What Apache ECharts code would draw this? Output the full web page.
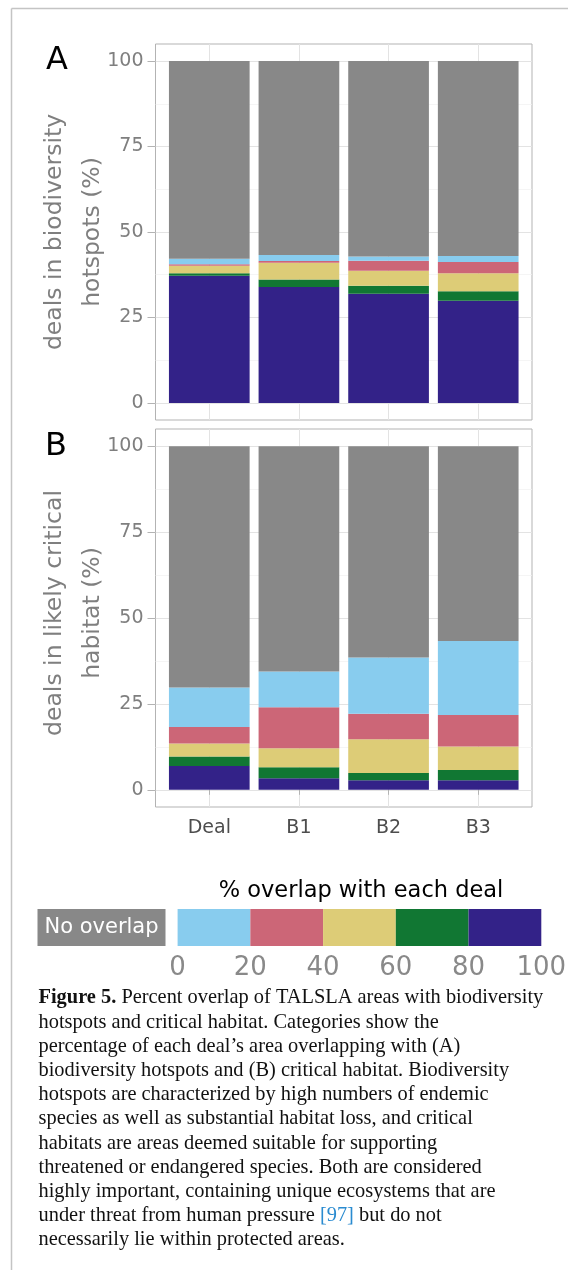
<!DOCTYPE html>
<html><head><meta charset="utf-8">
<script src="https://cdn.jsdelivr.net/npm/echarts@6/dist/echarts.min.js"></script>
<style>html,body{margin:0;padding:0;background:#fff}#c{width:568px;height:1270px}</style>
</head><body><div id="c"></div>
<script>
// ---------- data ----------
const categories = ['Deal', 'B1', 'B2', 'B3'];
const yTicks = [0, 25, 50, 75, 100];
const yMinorTicks = [12.5, 37.5, 62.5, 87.5];
const legendBreaks = [0, 20, 40, 60, 80, 100];
const binNames = ['80–100', '60–80', '40–60', '20–40', '0–20', 'No overlap']; // bottom -> top
const binColors = ['#332288', '#117733', '#DDCC77', '#CC6677', '#88CCEE', '#888888'];

// Panel A: deals in biodiversity hotspots (%)
const hotspot80to100 = [37.2, 33.9, 31.9, 29.9];
const hotspot60to80  = [0.7, 2.2, 2.4, 2.8];
const hotspot40to60  = [2.2, 4.9, 4.4, 5.2];
const hotspot20to40  = [0.5, 0.5, 2.9, 3.3];
const hotspot0to20   = [1.6, 1.8, 1.2, 1.8];
const hotspotNone    = [57.8, 56.7, 57.2, 57.0];

// Panel B: deals in likely critical habitat (%)
const habitat80to100 = [6.9, 3.4, 2.8, 2.8];
const habitat60to80  = [2.8, 3.2, 2.1, 3.0];
const habitat40to60  = [3.8, 5.5, 9.8, 6.8];
const habitat20to40  = [4.8, 11.9, 7.4, 9.2];
const habitat0to20   = [11.5, 10.4, 16.4, 21.5];
const habitatNone    = [70.2, 65.6, 61.5, 56.7];

const panelA = [hotspot80to100, hotspot60to80, hotspot40to60, hotspot20to40, hotspot0to20, hotspotNone];
const panelB = [habitat80to100, habitat60to80, habitat40to60, habitat20to40, habitat0to20, habitatNone];

// ---------- chart ----------
const FONT = '"DejaVu Sans", sans-serif';
const SERIF = '"Liberation Serif", "DejaVu Serif", serif';
const chart = echarts.init(document.getElementById('c'), null, {renderer: 'canvas'});

const plotL = 155.5, plotW = 376.5;
const bandPx = plotW / 4.2;           // discrete axis expanded by 0.6 band on each side
const barW = bandPx * 0.9;
const panels = [{top: 44, height: 376}, {top: 429, height: 378}];

function frameX(gridIndex, showLabels) {
  return {
    type: 'value', gridIndex: gridIndex, min: 0.4, max: 4.6,
    axisLine: {show: false},
    axisTick: {show: showLabels, customValues: [1, 2, 3, 4], length: 5, lineStyle: {color: '#b3b3b3', width: 1}},
    axisLabel: {show: showLabels, customValues: [1, 2, 3, 4], margin: 12,
      formatter: v => categories[Math.round(v) - 1] || '',
      color: '#4d4d4d', fontSize: 19, fontFamily: FONT},
    splitLine: {show: true, lineStyle: {color: '#e3e3e3', width: 1}}
  };
}
function frameYMain(gridIndex) {
  return {
    type: 'value', gridIndex: gridIndex, min: -5, max: 105,
    axisLine: {show: false},
    axisTick: {show: true, customValues: yTicks, length: 8, lineStyle: {color: '#b3b3b3', width: 1}},
    axisLabel: {show: true, customValues: yTicks, margin: 12, color: '#7f7f7f', fontSize: 19, fontFamily: FONT},
    splitLine: {show: true, lineStyle: {color: '#e3e3e3', width: 1}}
  };
}
function frameYMinor(gridIndex) {
  return {
    type: 'value', gridIndex: gridIndex, min: -5, max: 105,
    axisLine: {show: false},
    axisTick: {show: false, customValues: yMinorTicks},
    axisLabel: {show: false, customValues: yMinorTicks},
    splitLine: {show: true, lineStyle: {color: '#f1f1f1', width: 0.7}}
  };
}

const grids = [], xAxes = [], yAxes = [];
panels.forEach((pn, p) => {
  // frame grid (full panel incl. expansion)
  grids.push({left: plotL, top: pn.top, width: plotW, height: pn.height, show: true,
    borderColor: '#b3b3b3', borderWidth: 1, backgroundColor: '#fff', outerBoundsMode: 'none', containLabel: false});
  xAxes.push(frameX(grids.length - 1, p === 1));
  yAxes.push(frameYMain(grids.length - 1));
  yAxes.push(frameYMinor(grids.length - 1));
});
// bar grids (category bands only)
const barAxisIdx = [];
panels.forEach((pn, p) => {
  grids.push({left: plotL + 0.1 * bandPx, top: pn.top, width: 4 * bandPx, height: pn.height,
    outerBoundsMode: 'none', containLabel: false});
  const g = grids.length - 1;
  xAxes.push({type: 'category', gridIndex: g, data: categories, show: false});
  yAxes.push({type: 'value', gridIndex: g, min: -5, max: 105, show: false, splitLine: {show: false}});
  barAxisIdx.push({x: xAxes.length - 1, y: yAxes.length - 1});
});
// legend grid
grids.push({left: 177.6, top: 909, width: 363.7, height: 37, outerBoundsMode: 'none', containLabel: false});
xAxes.push({type: 'value', gridIndex: grids.length - 1, min: 0, max: 100, interval: 20,
  axisLine: {show: false}, axisTick: {show: false}, splitLine: {show: false},
  axisLabel: {margin: 9, color: '#898989', fontSize: 26, fontFamily: FONT}});
yAxes.push({type: 'category', gridIndex: grids.length - 1, data: ['legend'], show: false});
const legX = xAxes.length - 1, legY = yAxes.length - 1;

const series = [];
[panelA, panelB].forEach((panel, p) => {
  panel.forEach((arr, k) => {
    series.push({
      type: 'bar', name: binNames[k], xAxisIndex: barAxisIdx[p].x, yAxisIndex: barAxisIdx[p].y,
      stack: 'panel' + p, barWidth: barW, silent: true, z: 5,
      itemStyle: {color: binColors[k]},
      data: arr
    });
  });
});
// legend colour bar (0-20 ... 80-100)
const legendColors = ['#88CCEE', '#CC6677', '#DDCC77', '#117733', '#332288'];
for (let i = 0; i < legendBreaks.length - 1; i++) {
  series.push({
    type: 'bar', xAxisIndex: legX, yAxisIndex: legY, stack: 'legend', barWidth: 37, silent: true,
    itemStyle: {color: legendColors[i]},
    data: [legendBreaks[i + 1] - legendBreaks[i]]
  });
}

const captionLines = [
  '{b|Figure 5.} Percent overlap of TALSLA areas with biodiversity',
  'hotspots and critical habitat. Categories show the',
  'percentage of each deal\u2019s area overlapping with (A)',
  'biodiversity hotspots and (B) critical habitat. Biodiversity',
  'hotspots are characterized by high numbers of endemic',
  'species as well as substantial habitat loss, and critical',
  'habitats are areas deemed suitable for supporting',
  'threatened or endangered species. Both are considered',
  'highly important, containing unique ecosystems that are',
  'under threat from human pressure {c|[97]} but do not',
  'necessarily lie within protected areas.'
];
const CAP = 20.4;

const option = {
  animation: false,
  backgroundColor: '#fff',
  grid: grids,
  xAxis: xAxes,
  yAxis: yAxes,
  series: series,
  graphic: [
    {type: 'line', silent: true, shape: {x1: 11.5, y1: 8.5, x2: 568, y2: 8.5}, style: {stroke: '#c4c4c4', lineWidth: 1.5}},
    {type: 'line', silent: true, shape: {x1: 11.5, y1: 8.5, x2: 11.5, y2: 1270}, style: {stroke: '#c4c4c4', lineWidth: 1.5}},
    {type: 'text', silent: true, x: 57, y: 61, style: {text: 'A', font: '32px ' + FONT, fill: '#000', textAlign: 'center', textVerticalAlign: 'middle', align: 'center', verticalAlign: 'middle'}},
    {type: 'text', silent: true, x: 56, y: 447, style: {text: 'B', font: '32px ' + FONT, fill: '#000', textAlign: 'center', textVerticalAlign: 'middle', align: 'center', verticalAlign: 'middle'}},
    {type: 'text', silent: true, x: 73.5, y: 232, rotation: Math.PI / 2,
      style: {text: 'deals in biodiversity\nhotspots (%)', font: '23.5px ' + FONT, lineHeight: 38, fill: '#7f7f7f', textAlign: 'center', textVerticalAlign: 'middle', align: 'center', verticalAlign: 'middle'}},
    {type: 'text', silent: true, x: 73.5, y: 613, rotation: Math.PI / 2,
      style: {text: 'deals in likely critical\nhabitat (%)', font: '23.5px ' + FONT, lineHeight: 38, fill: '#7f7f7f', textAlign: 'center', textVerticalAlign: 'middle', align: 'center', verticalAlign: 'middle'}},
    {type: 'text', silent: true, x: 361, y: 891, style: {text: '% overlap with each deal', font: '22.5px ' + FONT, fill: '#000', textAlign: 'center', textVerticalAlign: 'middle', align: 'center', verticalAlign: 'middle'}},
    {type: 'rect', silent: true, shape: {x: 37.5, y: 909, width: 128, height: 37}, style: {fill: '#888888'}},
    {type: 'text', silent: true, x: 101.5, y: 927.5, style: {text: 'No overlap', font: '21px ' + FONT, fill: '#fff', textAlign: 'center', textVerticalAlign: 'middle', align: 'center', verticalAlign: 'middle'}},
    {type: 'text', silent: true, x: 38.5, y: 986,
      style: {text: captionLines.join('\n'), font: CAP + 'px ' + SERIF, fill: '#111', lineHeight: 24.2,
        textAlign: 'left', textVerticalAlign: 'top', align: 'left', verticalAlign: 'top',
        rich: {
          b: {fontWeight: 'bold', fontSize: CAP, fontFamily: SERIF, fill: '#111', color: '#111', lineHeight: 24.2},
          c: {fontSize: CAP, fontFamily: SERIF, fill: '#2a8bd0', color: '#2a8bd0', lineHeight: 24.2}
        }}}
  ]
};
chart.setOption(option);
</script>
</body></html>
